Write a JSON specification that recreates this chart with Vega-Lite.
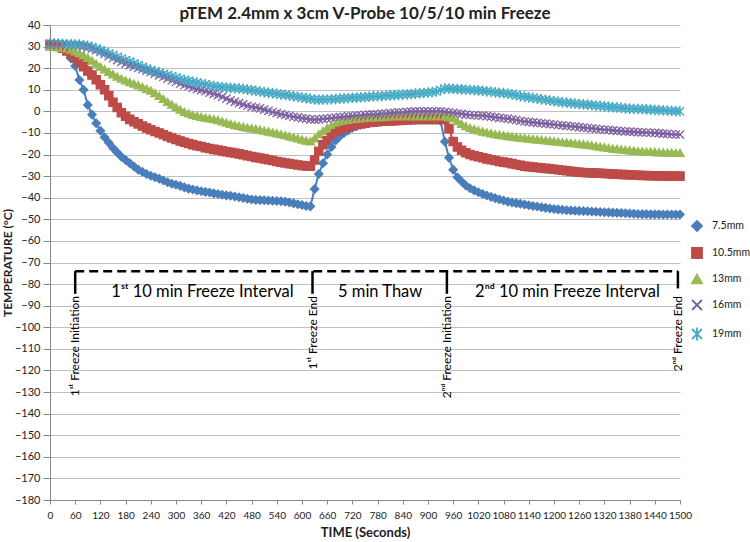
{
"$schema":"https://vega.github.io/schema/vega-lite/v6.json",
"width":630,"height":475,
"autosize":"none",
"padding":{"left":50,"top":25,"right":70,"bottom":42},
"background":"white",
"title":{"text":"pTEM 2.4mm x 3cm V-Probe 10/5/10 min Freeze","fontSize":17,"fontWeight":"bold","font":"Lato","color":"#222222","anchor":"middle","offset":-4},
"config":{"view":{"stroke":null},"font":"Lato",
"axis":{"tickColor":"#868686","domainColor":"#868686","labelColor":"#222222","titleFontWeight":"bold","titleColor":"#222222","titleFontSize":13,"labelOverlap":false},
"axisX":{"grid":false,"labelFontSize":10,"tickSize":4,"labelPadding":6,"labelFlush":false,"titlePadding":6},
"axisY":{"grid":true,"gridColor":"#C0C0C0","gridWidth":1,"tickSize":7,"labelPadding":3,"labelFontSize":11,"titleFontSize":12,"titlePadding":0}},
"layer":[
{
"data":{"values":[
{"t":0,"a":30.8,"b":31,"c":30,"d":31,"e":31.5},
{"t":10,"a":30.6,"b":30.5,"c":30,"d":31,"e":31.5},
{"t":20,"a":30.4,"b":30,"c":29.8,"d":31,"e":31.4},
{"t":30,"a":29.8,"b":29.3,"c":29.5,"d":31,"e":31.3},
{"t":40,"a":28,"b":28,"c":29.2,"d":30.9,"e":31.2},
{"t":50,"a":24.5,"b":26.5,"c":28.6,"d":30.8,"e":31.1},
{"t":60,"a":21,"b":25,"c":27.8,"d":30.7,"e":31},
{"t":70,"a":14.5,"b":22.8,"c":27,"d":30.5,"e":30.9},
{"t":80,"a":10,"b":20.7,"c":26,"d":30.2,"e":30.7},
{"t":90,"a":3,"b":18.7,"c":24.8,"d":29.6,"e":30.3},
{"t":100,"a":-1.5,"b":16.8,"c":23.5,"d":29,"e":29.8},
{"t":110,"a":-5.5,"b":14.6,"c":22.1,"d":28.3,"e":29.1},
{"t":120,"a":-9,"b":12.3,"c":20.7,"d":27.5,"e":28.4},
{"t":130,"a":-12,"b":10,"c":19.5,"d":26.6,"e":27.6},
{"t":140,"a":-14.5,"b":7.2,"c":18.3,"d":25.6,"e":26.8},
{"t":150,"a":-17,"b":4.2,"c":17.2,"d":24.6,"e":26.1},
{"t":160,"a":-19,"b":1.8,"c":16.1,"d":23.7,"e":25.3},
{"t":170,"a":-21,"b":-0.6,"c":15.2,"d":22.9,"e":24.5},
{"t":180,"a":-22.5,"b":-2.3,"c":14.4,"d":22.1,"e":23.7},
{"t":190,"a":-24,"b":-3.7,"c":13.6,"d":21.4,"e":23},
{"t":200,"a":-25.5,"b":-4.8,"c":12.9,"d":20.7,"e":22.2},
{"t":210,"a":-27,"b":-5.8,"c":12.1,"d":20.1,"e":21.4},
{"t":220,"a":-28,"b":-6.8,"c":11.3,"d":19.5,"e":20.6},
{"t":230,"a":-29,"b":-7.7,"c":10.5,"d":18.9,"e":19.8},
{"t":240,"a":-29.8,"b":-8.5,"c":9.7,"d":18.3,"e":19.1},
{"t":250,"a":-30.5,"b":-9.3,"c":8.5,"d":17.5,"e":18.5},
{"t":260,"a":-31.2,"b":-10,"c":7.2,"d":16.7,"e":17.9},
{"t":270,"a":-32,"b":-10.8,"c":5.8,"d":15.9,"e":17.3},
{"t":280,"a":-32.8,"b":-11.6,"c":4.4,"d":15.2,"e":16.8},
{"t":290,"a":-33.5,"b":-12.3,"c":3.2,"d":14.4,"e":16.2},
{"t":300,"a":-34,"b":-13,"c":2,"d":13.6,"e":15.6},
{"t":310,"a":-34.5,"b":-13.7,"c":0.8,"d":12.8,"e":15},
{"t":320,"a":-35.2,"b":-14.3,"c":-0.2,"d":12.1,"e":14.5},
{"t":330,"a":-35.8,"b":-14.9,"c":-0.9,"d":11.5,"e":14.1},
{"t":340,"a":-36.2,"b":-15.4,"c":-1.6,"d":10.9,"e":13.7},
{"t":350,"a":-36.6,"b":-15.9,"c":-2.1,"d":10.3,"e":13.3},
{"t":360,"a":-37,"b":-16.3,"c":-2.5,"d":9.8,"e":12.9},
{"t":370,"a":-37.3,"b":-16.8,"c":-2.9,"d":9.3,"e":12.5},
{"t":380,"a":-37.6,"b":-17.2,"c":-3.2,"d":8.7,"e":12.1},
{"t":390,"a":-38,"b":-17.6,"c":-3.6,"d":8.1,"e":11.7},
{"t":400,"a":-38.3,"b":-17.9,"c":-4,"d":7.5,"e":11.4},
{"t":410,"a":-38.6,"b":-18.3,"c":-4.6,"d":6.7,"e":11.2},
{"t":420,"a":-38.9,"b":-18.7,"c":-5.2,"d":5.9,"e":11},
{"t":430,"a":-39.1,"b":-19,"c":-5.8,"d":5.1,"e":10.9},
{"t":440,"a":-39.4,"b":-19.3,"c":-6.3,"d":4.4,"e":10.7},
{"t":450,"a":-39.8,"b":-19.7,"c":-6.7,"d":3.8,"e":10.6},
{"t":460,"a":-40.1,"b":-20.1,"c":-7.1,"d":3.2,"e":10.4},
{"t":470,"a":-40.5,"b":-20.5,"c":-7.5,"d":2.6,"e":10.1},
{"t":480,"a":-40.8,"b":-20.9,"c":-7.8,"d":2.1,"e":9.8},
{"t":490,"a":-41,"b":-21.3,"c":-8.1,"d":1.8,"e":9.5},
{"t":500,"a":-41.1,"b":-21.6,"c":-8.5,"d":1.4,"e":9.2},
{"t":510,"a":-41.2,"b":-22,"c":-8.9,"d":0.8,"e":8.9},
{"t":520,"a":-41.3,"b":-22.4,"c":-9.3,"d":0.2,"e":8.6},
{"t":530,"a":-41.4,"b":-22.8,"c":-9.7,"d":-0.3,"e":8.4},
{"t":540,"a":-41.5,"b":-23.2,"c":-10.1,"d":-0.8,"e":8.1},
{"t":550,"a":-41.6,"b":-23.6,"c":-10.5,"d":-1.3,"e":7.8},
{"t":560,"a":-41.8,"b":-23.9,"c":-11,"d":-1.7,"e":7.6},
{"t":570,"a":-42.2,"b":-24.2,"c":-11.5,"d":-2.1,"e":7.3},
{"t":580,"a":-42.6,"b":-24.5,"c":-12,"d":-2.5,"e":7},
{"t":590,"a":-43,"b":-24.8,"c":-12.5,"d":-2.8,"e":6.7},
{"t":600,"a":-43.4,"b":-25.1,"c":-13,"d":-3.1,"e":6.4},
{"t":610,"a":-43.8,"b":-25.3,"c":-13.5,"d":-3.4,"e":6.1},
{"t":620,"a":-44,"b":-25.4,"c":-13.8,"d":-3.7,"e":5.8},
{"t":630,"a":-36,"b":-22.5,"c":-12.5,"d":-3.8,"e":5.5},
{"t":640,"a":-29,"b":-18.5,"c":-10.6,"d":-3.7,"e":5.4},
{"t":650,"a":-24,"b":-15.5,"c":-9,"d":-3.5,"e":5.4},
{"t":660,"a":-20,"b":-13.5,"c":-7.6,"d":-3.3,"e":5.5},
{"t":670,"a":-16.5,"b":-11.9,"c":-6.6,"d":-3.1,"e":5.6},
{"t":680,"a":-13.5,"b":-10.4,"c":-5.8,"d":-2.9,"e":5.7},
{"t":690,"a":-11.5,"b":-9.2,"c":-5.1,"d":-2.7,"e":5.9},
{"t":700,"a":-10,"b":-8.3,"c":-4.6,"d":-2.5,"e":6},
{"t":710,"a":-8.8,"b":-7.5,"c":-4.2,"d":-2.3,"e":6.1},
{"t":720,"a":-7.6,"b":-6.8,"c":-3.9,"d":-2.1,"e":6.3},
{"t":730,"a":-6.8,"b":-6.2,"c":-3.6,"d":-1.9,"e":6.4},
{"t":740,"a":-6.1,"b":-5.8,"c":-3.4,"d":-1.8,"e":6.5},
{"t":750,"a":-5.6,"b":-5.5,"c":-3.2,"d":-1.6,"e":6.6},
{"t":760,"a":-5.2,"b":-5.2,"c":-3,"d":-1.5,"e":6.8},
{"t":770,"a":-4.9,"b":-5,"c":-2.9,"d":-1.4,"e":6.9},
{"t":780,"a":-4.7,"b":-4.8,"c":-2.8,"d":-1.3,"e":7},
{"t":790,"a":-4.5,"b":-4.6,"c":-2.7,"d":-1.1,"e":7.1},
{"t":800,"a":-4.4,"b":-4.5,"c":-2.6,"d":-1,"e":7.3},
{"t":810,"a":-4.3,"b":-4.4,"c":-2.5,"d":-0.8,"e":7.4},
{"t":820,"a":-4.2,"b":-4.3,"c":-2.4,"d":-0.7,"e":7.5},
{"t":830,"a":-4.1,"b":-4.2,"c":-2.3,"d":-0.5,"e":7.6},
{"t":840,"a":-4.1,"b":-4.1,"c":-2.3,"d":-0.4,"e":7.8},
{"t":850,"a":-4,"b":-4,"c":-2.3,"d":-0.2,"e":7.9},
{"t":860,"a":-4,"b":-3.9,"c":-2.3,"d":-0.1,"e":8},
{"t":870,"a":-3.9,"b":-3.8,"c":-2.3,"d":0,"e":8.2},
{"t":880,"a":-3.9,"b":-3.8,"c":-2.3,"d":0,"e":8.3},
{"t":890,"a":-3.8,"b":-3.8,"c":-2.3,"d":0,"e":8.5},
{"t":900,"a":-3.8,"b":-3.8,"c":-2.3,"d":0,"e":8.7},
{"t":910,"a":-3.8,"b":-3.8,"c":-2.3,"d":0,"e":8.9},
{"t":920,"a":-3.8,"b":-3.8,"c":-2.3,"d":0,"e":9.2},
{"t":930,"a":-4.5,"b":-3.8,"c":-2.3,"d":0,"e":9.9},
{"t":940,"a":-14,"b":-3.8,"c":-2.3,"d":-0.2,"e":10.6},
{"t":950,"a":-21.5,"b":-8,"c":-2.6,"d":-0.4,"e":10.5},
{"t":960,"a":-27,"b":-14,"c":-3.2,"d":-0.7,"e":10.4},
{"t":970,"a":-30.5,"b":-16.5,"c":-4.5,"d":-1,"e":10.3},
{"t":980,"a":-32.5,"b":-18,"c":-5.8,"d":-1.2,"e":10.2},
{"t":990,"a":-34.3,"b":-19.2,"c":-6.8,"d":-1.5,"e":10.1},
{"t":1000,"a":-35.6,"b":-20,"c":-7.6,"d":-1.7,"e":9.9},
{"t":1010,"a":-36.6,"b":-20.6,"c":-8.2,"d":-1.8,"e":9.8},
{"t":1020,"a":-37.5,"b":-21,"c":-8.8,"d":-1.9,"e":9.7},
{"t":1030,"a":-38.3,"b":-21.5,"c":-9.3,"d":-2,"e":9.5},
{"t":1040,"a":-39,"b":-22,"c":-9.7,"d":-2.2,"e":9.3},
{"t":1050,"a":-39.6,"b":-22.4,"c":-10.1,"d":-2.4,"e":9.1},
{"t":1060,"a":-40.2,"b":-22.8,"c":-10.5,"d":-2.7,"e":8.8},
{"t":1070,"a":-40.8,"b":-23.2,"c":-10.8,"d":-3,"e":8.6},
{"t":1080,"a":-41.3,"b":-23.5,"c":-11.1,"d":-3.2,"e":8.4},
{"t":1090,"a":-41.8,"b":-23.8,"c":-11.4,"d":-3.4,"e":8.2},
{"t":1100,"a":-42.2,"b":-24.2,"c":-11.6,"d":-3.7,"e":7.9},
{"t":1110,"a":-42.5,"b":-24.6,"c":-11.9,"d":-4,"e":7.5},
{"t":1120,"a":-42.8,"b":-25,"c":-12.2,"d":-4.4,"e":7.1},
{"t":1130,"a":-43.1,"b":-25.4,"c":-12.4,"d":-4.7,"e":6.8},
{"t":1140,"a":-43.5,"b":-25.6,"c":-12.6,"d":-4.9,"e":6.5},
{"t":1150,"a":-43.8,"b":-25.8,"c":-12.8,"d":-5.1,"e":6.2},
{"t":1160,"a":-44.1,"b":-26,"c":-13,"d":-5.3,"e":5.9},
{"t":1170,"a":-44.4,"b":-26.2,"c":-13.2,"d":-5.5,"e":5.6},
{"t":1180,"a":-44.7,"b":-26.4,"c":-13.4,"d":-5.7,"e":5.3},
{"t":1190,"a":-45,"b":-26.6,"c":-13.6,"d":-5.9,"e":5},
{"t":1200,"a":-45.2,"b":-26.8,"c":-13.8,"d":-6.1,"e":4.7},
{"t":1210,"a":-45.4,"b":-27,"c":-14,"d":-6.3,"e":4.5},
{"t":1220,"a":-45.6,"b":-27.3,"c":-14.2,"d":-6.5,"e":4.2},
{"t":1230,"a":-45.8,"b":-27.5,"c":-14.4,"d":-6.7,"e":4},
{"t":1240,"a":-45.9,"b":-27.8,"c":-14.6,"d":-6.9,"e":3.8},
{"t":1250,"a":-46,"b":-28,"c":-14.8,"d":-7.1,"e":3.6},
{"t":1260,"a":-46.1,"b":-28.2,"c":-15,"d":-7.3,"e":3.4},
{"t":1270,"a":-46.2,"b":-28.3,"c":-15.2,"d":-7.5,"e":3.2},
{"t":1280,"a":-46.3,"b":-28.4,"c":-15.4,"d":-7.7,"e":3.1},
{"t":1290,"a":-46.4,"b":-28.5,"c":-15.7,"d":-7.9,"e":2.9},
{"t":1300,"a":-46.5,"b":-28.6,"c":-16,"d":-8.1,"e":2.7},
{"t":1310,"a":-46.6,"b":-28.7,"c":-16.3,"d":-8.3,"e":2.5},
{"t":1320,"a":-46.7,"b":-28.8,"c":-16.6,"d":-8.5,"e":2.3},
{"t":1330,"a":-46.8,"b":-28.9,"c":-16.9,"d":-8.6,"e":2.1},
{"t":1340,"a":-46.9,"b":-29,"c":-17.2,"d":-8.8,"e":2},
{"t":1350,"a":-47,"b":-29.1,"c":-17.4,"d":-9,"e":1.8},
{"t":1360,"a":-47.1,"b":-29.2,"c":-17.6,"d":-9.1,"e":1.6},
{"t":1370,"a":-47.2,"b":-29.3,"c":-17.8,"d":-9.3,"e":1.4},
{"t":1380,"a":-47.3,"b":-29.4,"c":-18,"d":-9.4,"e":1.3},
{"t":1390,"a":-47.4,"b":-29.5,"c":-18.2,"d":-9.5,"e":1.2},
{"t":1400,"a":-47.5,"b":-29.6,"c":-18.4,"d":-9.6,"e":1.1},
{"t":1410,"a":-47.6,"b":-29.7,"c":-18.5,"d":-9.7,"e":1},
{"t":1420,"a":-47.6,"b":-29.7,"c":-18.6,"d":-9.8,"e":0.9},
{"t":1430,"a":-47.7,"b":-29.8,"c":-18.7,"d":-9.9,"e":0.8},
{"t":1440,"a":-47.7,"b":-29.8,"c":-18.8,"d":-10,"e":0.7},
{"t":1450,"a":-47.7,"b":-29.9,"c":-18.9,"d":-10.1,"e":0.6},
{"t":1460,"a":-47.8,"b":-29.9,"c":-19,"d":-10.3,"e":0.5},
{"t":1470,"a":-47.8,"b":-30,"c":-19.1,"d":-10.4,"e":0.3},
{"t":1480,"a":-47.8,"b":-30,"c":-19.1,"d":-10.6,"e":0.2},
{"t":1490,"a":-47.8,"b":-30,"c":-19.2,"d":-10.7,"e":0.1},
{"t":1500,"a":-47.8,"b":-30,"c":-19.2,"d":-10.8,"e":0}
]},
"transform":[
{"fold":["a","b","c","d","e"],"as":["k","v"]},
{"lookup":"k","from":{"data":{"values":[{"k":"a","name":"7.5mm"},{"k":"b","name":"10.5mm"},{"k":"c","name":"13mm"},{"k":"d","name":"16mm"},{"k":"e","name":"19mm"}]},"key":"k","fields":["name"]}}
],
"encoding":{
"x":{"field":"t","type":"quantitative","scale":{"domain":[0,1500],"nice":false,"zero":false},"axis":{"title":"TIME (Seconds)","format":"d","values":[0,60,120,180,240,300,360,420,480,540,600,660,720,780,840,900,960,1020,1080,1140,1200,1260,1320,1380,1440,1500]}},
"y":{"field":"v","type":"quantitative","scale":{"domain":[-180,40],"nice":false,"zero":false},"axis":{"title":"TEMPERATURE  (°C)","format":"d","values":[40,30,20,10,0,-10,-20,-30,-40,-50,-60,-70,-80,-90,-100,-110,-120,-130,-140,-150,-160,-170,-180]}},
"color":{"field":"name","type":"nominal","scale":{"domain":["7.5mm","10.5mm","13mm","16mm","19mm"],"range":["#4A7EBB","#BE4B48","#98B954","#7D60A0","#46AAC5"]},
 "legend":{"title":null,"orient":"none","legendX":641,"legendY":195,"labelFontSize":10.5,"labelColor":"#222222","symbolSize":100,"labelOffset":9,"rowPadding":9,
  "encode":{"symbols":{"update":{"shape":{"value":{"expr":"datum.value==='7.5mm'?'M-2.4,0H2.4M0,-0.8L0.7,0L0,0.8L-0.7,0Z':datum.value==='10.5mm'?'M-2.4,0H2.4M-0.6,-0.6H0.6V0.6H-0.6Z':datum.value==='13mm'?'M-2.4,0H2.4M0,-0.75L0.7,0.55H-0.7Z':datum.value==='16mm'?'M-2.4,0H2.4M-0.6,-0.6L0.6,0.6M-0.6,0.6L0.6,-0.6':'M-2.4,0H2.4M-0.6,-0.6L0.6,0.6M-0.6,0.6L0.6,-0.6M0,-0.8V0.8'"}},"strokeWidth":{"value":1.8}}}}}}
},
"layer":[
{"mark":{"type":"line","strokeWidth":2}},
{"mark":{"type":"point","filled":true,"size":68,"strokeWidth":1.3,"opacity":1},
 "encoding":{
 "shape":{"field":"name","type":"nominal","scale":{"domain":["7.5mm","10.5mm","13mm","16mm","19mm"],"range":["diamond","square","triangle-up","M-1,-1L1,1M-1,1L1,-1","M-1,-1L1,1M-1,1L1,-1M0,-1.3V1.3"]},"legend":null},
 "stroke":{"field":"name","type":"nominal","scale":{"domain":["7.5mm","10.5mm","13mm","16mm","19mm"],"range":["#4A7EBB","#BE4B48","#98B954","#7D60A0","#46AAC5"]},"legend":null}}}
]
},
{
"data":{"values":[{"t1":60,"t2":1495,"y":-74}]},
"mark":{"type":"rule","strokeDash":[9,5],"strokeWidth":2.5,"color":"#000000"},
"encoding":{
"x":{"field":"t1","type":"quantitative","scale":{"domain":[0,1500],"nice":false,"zero":false},"axis":{"title":"TIME (Seconds)","format":"d","values":[0,60,120,180,240,300,360,420,480,540,600,660,720,780,840,900,960,1020,1080,1140,1200,1260,1320,1380,1440,1500]}},
"x2":{"field":"t2"},
"y":{"field":"y","type":"quantitative","scale":{"domain":[-180,40],"nice":false,"zero":false},"axis":{"title":"TEMPERATURE  (°C)","format":"d","values":[40,30,20,10,0,-10,-20,-30,-40,-50,-60,-70,-80,-90,-100,-110,-120,-130,-140,-150,-160,-170,-180]}}}
},
{
"data":{"values":[{"t":60,"y1":-74,"y2":-84.5},{"t":625,"y1":-74,"y2":-84.5},{"t":945,"y1":-74,"y2":-84.5},{"t":1495,"y1":-74,"y2":-82}]},
"mark":{"type":"rule","strokeWidth":2.5,"color":"#000000"},
"encoding":{
"x":{"field":"t","type":"quantitative","scale":{"domain":[0,1500],"nice":false,"zero":false},"axis":{"title":"TIME (Seconds)","format":"d","values":[0,60,120,180,240,300,360,420,480,540,600,660,720,780,840,900,960,1020,1080,1140,1200,1260,1320,1380,1440,1500]}},
"y":{"field":"y1","type":"quantitative","scale":{"domain":[-180,40],"nice":false,"zero":false},"axis":{"title":"TEMPERATURE  (°C)","format":"d","values":[40,30,20,10,0,-10,-20,-30,-40,-50,-60,-70,-80,-90,-100,-110,-120,-130,-140,-150,-160,-170,-180]}},
"y2":{"field":"y2"}}
},
{
"data":{"values":[{"t":60,"y":-85.5,"label":"1ˢᵗ Freeze Initiation"},{"t":625,"y":-85.5,"label":"1ˢᵗ Freeze End"},{"t":945,"y":-85.5,"label":"2ⁿᵈ Freeze Initiation"},{"t":1495,"y":-85.5,"label":"2ⁿᵈ Freeze End"}]},
"mark":{"type":"text","angle":270,"align":"right","baseline":"middle","fontSize":12,"color":"#000000"},
"encoding":{
"x":{"field":"t","type":"quantitative","scale":{"domain":[0,1500],"nice":false,"zero":false},"axis":{"title":"TIME (Seconds)","format":"d","values":[0,60,120,180,240,300,360,420,480,540,600,660,720,780,840,900,960,1020,1080,1140,1200,1260,1320,1380,1440,1500]}},
"y":{"field":"y","type":"quantitative","scale":{"domain":[-180,40],"nice":false,"zero":false},"axis":{"title":"TEMPERATURE  (°C)","format":"d","values":[40,30,20,10,0,-10,-20,-30,-40,-50,-60,-70,-80,-90,-100,-110,-120,-130,-140,-150,-160,-170,-180]}},
"text":{"field":"label"}}
},
{
"data":{"values":[{"t":363,"y":-83.6,"label":"1ˢᵗ 10 min Freeze Interval"},{"t":786,"y":-83.6,"label":"5 min Thaw"},{"t":1232,"y":-83.6,"label":"2ⁿᵈ 10 min Freeze Interval"}]},
"mark":{"type":"text","align":"center","baseline":"middle","fontSize":16.5,"color":"#000000"},
"encoding":{
"x":{"field":"t","type":"quantitative","scale":{"domain":[0,1500],"nice":false,"zero":false},"axis":{"title":"TIME (Seconds)","format":"d","values":[0,60,120,180,240,300,360,420,480,540,600,660,720,780,840,900,960,1020,1080,1140,1200,1260,1320,1380,1440,1500]}},
"y":{"field":"y","type":"quantitative","scale":{"domain":[-180,40],"nice":false,"zero":false},"axis":{"title":"TEMPERATURE  (°C)","format":"d","values":[40,30,20,10,0,-10,-20,-30,-40,-50,-60,-70,-80,-90,-100,-110,-120,-130,-140,-150,-160,-170,-180]}},
"text":{"field":"label"}}
}
]
}
